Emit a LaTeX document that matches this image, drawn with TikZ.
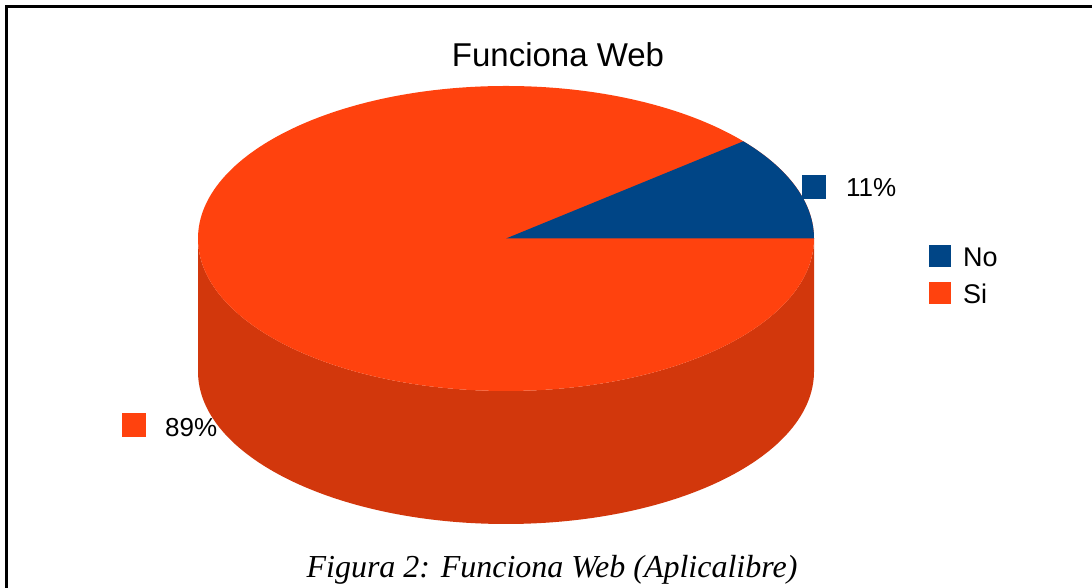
\documentclass[tikz,border=0pt]{standalone}
\usepackage{fontspec}
\setmainfont{Liberation Serif}
\newfontfamily\chartfont{Liberation Sans}
\usetikzlibrary{positioning}
\definecolor{noblue}{HTML}{004586}
\definecolor{siorange}{HTML}{FF420E}
\definecolor{siside}{HTML}{D2370C}
\tikzset{
	keybox/.style={inner sep=0pt,minimum size=#1,fill},
	keytext/.style={font=\chartfont\fontsize{26}{30}\selectfont,inner sep=0pt,anchor=base west}
}

\begin{document}
\begin{tikzpicture}[x=1pt,y=1pt]
	\useasboundingbox (0,0) rectangle (1092,588);
	% frame
	\draw[line width=3pt] (6.5,0) -- (6.5,581.5) -- (1092,581.5);
	% pie side, then top
	\coordinate (c) at (506,349.5);
	\fill[siside] (198,349.5) arc[start angle=180,end angle=360,x radius=308,y radius=152.5] -- ++(0,-133) arc[start angle=0,end angle=-180,x radius=308,y radius=152.5] -- cycle;
	\fill[siorange] (c) ellipse[x radius=308,y radius=152.5];
	\fill[noblue] (c) -- ++(308,0) arc[start angle=0,end angle=39.6,x radius=308,y radius=152.5] -- cycle;
	% title
	\node[font=\chartfont\fontsize{33}{38}\selectfont,inner sep=0pt,anchor=base] (title) at (558,521) {Funciona Web};
	% data labels
	\node[keybox=24pt,fill=noblue] (nomark) at (814,401) {};
	\node[keytext] (nolabel) at (846,391) {11\%};
	\node[keybox=24pt,fill=siorange] (simark) at (134,163) {};
	\node[keytext] (silabel) at (165,151) {89\%};
	% legend
	\node[keybox=22pt,fill=noblue] (nokey) at (940,332) {};
	\node[keytext,font=\chartfont\fontsize{27}{30}\selectfont] (notext) at (963,321) {No};
	\node[keybox=22pt,fill=siorange] (sikey) at (940,294.5) {};
	\node[keytext,font=\chartfont\fontsize{27}{30}\selectfont] (sitext) at (963,284) {Si};
	% caption
	\node[font=\itshape\fontsize{32}{36}\selectfont,inner sep=0pt,anchor=base] (caption) at (552,10) {Figura 2: Funciona Web (Aplicalibre)};
\end{tikzpicture}
\end{document}
